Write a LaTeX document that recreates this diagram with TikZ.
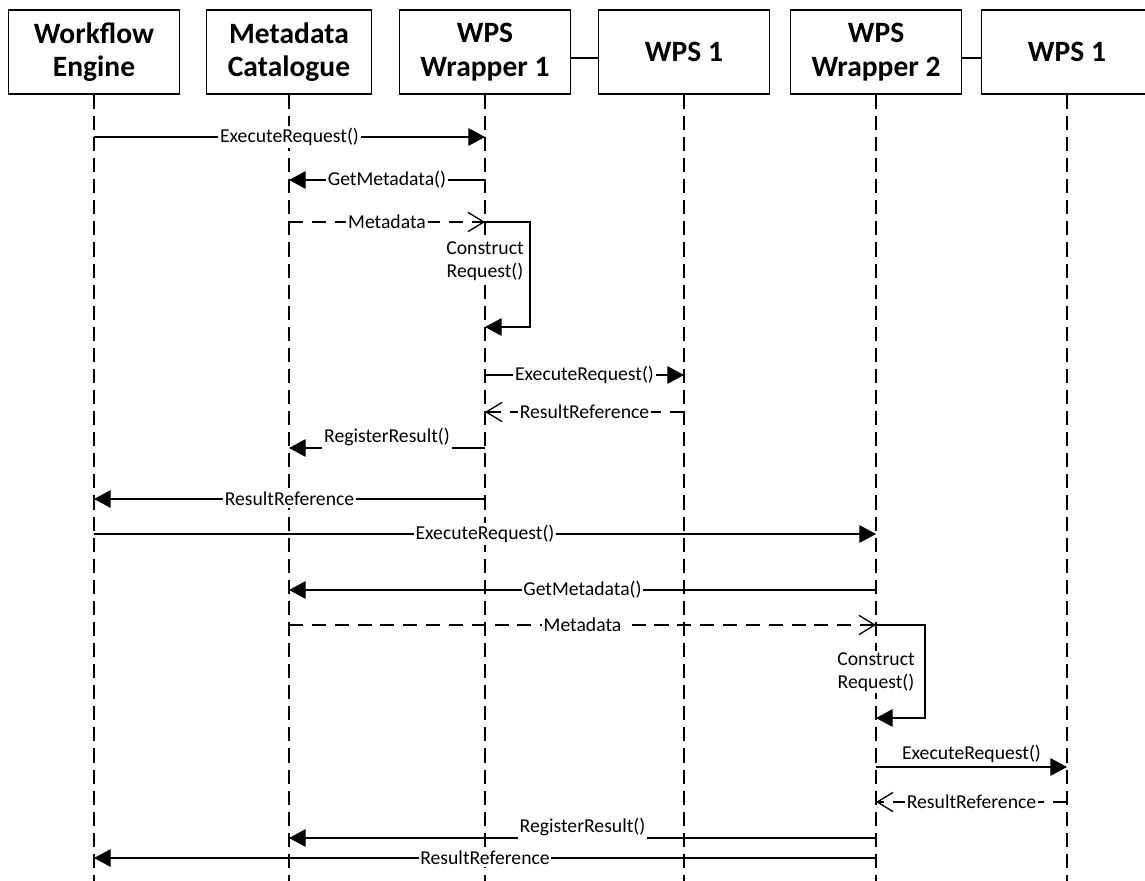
\documentclass[tikz,border=0pt]{standalone}
\usepackage{fontspec}
\setmainfont{Carlito}
\usetikzlibrary{arrows.meta}

\tikzset{
  actor/.style={draw, line width=1pt, minimum width=3.42cm, minimum height=1.68cm,
    align=center, font=\bfseries\fontsize{16.8}{19}\selectfont},
  lifeline/.style={line width=0.7pt, dash pattern=on 8pt off 4pt},
  wire/.style={line width=0.8pt},
  call/.style={line width=0.75pt, -{Triangle[length=9.5pt,width=10pt]}},
  reply/.style={line width=0.75pt, dash pattern=on 8pt off 5pt,
    -{Straight Barb[length=9pt,width=11pt]}},
  msg/.style={fill=white, inner sep=1pt, font=\fontsize{11.2}{13}\selectfont},
}

\begin{document}
\begin{tikzpicture}[x=0.02cm,y=-0.02cm]
\useasboundingbox (0,0) rectangle (1145,881);
\clip (0,0) rectangle (1145,881);

% Participant boxes along the top
\node[actor] (we) at (94,52) {Workflow\\Engine};
\node[actor, minimum width=3.3cm] (mc) at (289,52) {Metadata\\Catalogue};
\node[actor] (ww1) at (485,52) {WPS\\Wrapper 1};
\node[actor] (wpsa) at (684,52) {WPS 1};
\node[actor] (ww2) at (876,52) {WPS\\Wrapper 2};
\node[actor] (wpsb) at (1067,52) {WPS 1};

% Wrappers linked to their services
\draw[wire] ([yshift=-0.12cm]ww1.east) -- ([yshift=-0.12cm]wpsa.west);
\draw[wire] ([yshift=-0.12cm]ww2.east) -- ([yshift=-0.12cm]wpsb.west);

% Lifelines
\foreach \p in {we,mc,ww1,wpsa,ww2,wpsb}
  \draw[lifeline] (\p.south) -- (\p.south |- 0,881);

% Calls, label on the line
\foreach \a/\b/\y/\t in {we/ww1/137/ExecuteRequest(),
    ww1/mc/180/GetMetadata(),
    ww1/wpsa/375/ExecuteRequest(),
    ww1/we/499/ResultReference,
    we/ww2/534/ExecuteRequest(),
    ww2/mc/590/GetMetadata(),
    ww2/we/858/ResultReference}
  \draw[call] (\a |- 0,\y) -- node[msg] {\t} (\b |- 0,\y);

% Replies, dashed
\foreach \a/\b/\y/\t in {mc/ww1/222/Metadata,
    wpsa/ww1/412/ResultReference,
    mc/ww2/625/Metadata,
    wpsb/ww2/802/ResultReference}
  \draw[reply] (\a |- 0,\y) -- node[msg] {\t} (\b |- 0,\y);

% Calls with the label raised
\foreach \a/\b/\y in {ww1/mc/448, ww2/mc/838}
  \draw[call] (\a |- 0,\y) -- node[msg, anchor=base, yshift=3pt, inner ysep=2pt] {RegisterResult()} (\b |- 0,\y);
\draw[call] (ww2 |- 0,767) -- node[msg, above=1pt] {ExecuteRequest()} (wpsb |- 0,767);

% Self calls
\draw[call] (ww1 |- 0,222) -- (530,222) -- (530,327) -- (ww1 |- 0,327);
\node[msg, align=center] (cr1) at (ww1 |- 0,261) {Construct\\Request()};
\draw[call] (ww2 |- 0,625) -- (925,625) -- (925,718) -- (ww2 |- 0,718);
\node[msg, align=center] (cr2) at (ww2 |- 0,672) {Construct\\Request()};
\end{tikzpicture}
\end{document}
